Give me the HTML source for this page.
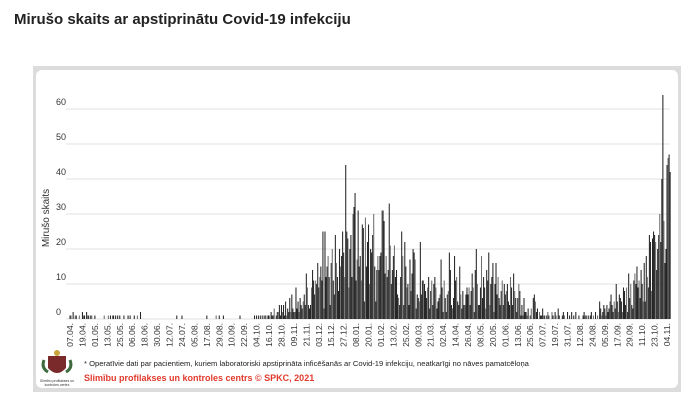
<!DOCTYPE html>
<html><head><meta charset="utf-8"><style>
body{margin:0;background:#fff;width:700px;height:406px;overflow:hidden;font-family:"Liberation Sans",sans-serif}
</style></head><body>
<svg width="700" height="406" xmlns="http://www.w3.org/2000/svg">
<text x="14" y="24" font-size="15" fill="#222" font-weight="600" font-family="Liberation Sans">Mirušo skaits ar apstiprinātu Covid-19 infekciju</text>
<rect x="33" y="66" width="648" height="326" fill="#dcdcdc"/>
<rect x="36" y="70" width="642" height="318" rx="6" fill="#fff"/>
<g id="grid"></g>
<g id="bars"></g>
<g id="xl"></g>
<text transform="translate(49,218) rotate(-90)" text-anchor="middle" font-size="10" fill="#333">Mirušo skaits</text>
<g>
<path d="M48 356 h18 v12 q-9 10 -18 0 z" fill="#7a2a2a"/>
<circle cx="57" cy="353" r="3" fill="#c9a43a"/>
<path d="M44 360 q-3 8 4 12 M70 360 q3 8 -4 12" stroke="#3d6b3d" stroke-width="3" fill="none"/>
<text x="57" y="382" font-size="3.5" text-anchor="middle" fill="#333">Slimību profilakses un</text>
<text x="57" y="386" font-size="3.5" text-anchor="middle" fill="#333">kontroles centrs</text>
</g>
<text x="84" y="366" font-size="7.6" fill="#222">* Operatīvie dati par pacientiem, kuriem laboratoriski apstiprināta inficēšanās ar Covid-19 infekciju, neatkarīgi no nāves pamatcēloņa</text>
<text x="84" y="381" font-size="9" font-weight="bold" fill="#e2392c">Slimību profilakses un kontroles centrs © SPKC, 2021</text>
</svg>
<script>
const yTicks=[0,10,20,30,40,50,60];
const dateLabels=["07.04.","19.04.","01.05.","13.05.","25.05.","06.06.","18.06.","30.06.","12.07.","24.07.","05.08.","17.08.","29.08.","10.09.","22.09.","04.10.","16.10.","28.10.","09.11.","21.11.","03.12.","15.12.","27.12.","08.01.","20.01.","01.02.","13.02.","25.02.","09.03.","21.03.","02.04.","14.04.","26.04.","08.05.","20.05.","01.06.","13.06.","25.06.","07.07.","19.07.","31.07.","12.08.","24.08.","05.09.","17.09.","29.09.","11.10.","23.10.","04.11."];
const deaths=[
1,1,0,2,0,1,1,0,0,1,0,0, 2,1,1,0,2,1,1,0,1,1,0,0, 1,0,0,0,0,0,0,0,0,1,0,0, 0,1,0,1,0,1,1,0,1,0,1,0,
1,0,0,0,1,0,0,0,1,0,1,0, 0,0,1,0,0,1,0,0,2,0,0,0, 0,0,0,0,0,0,0,0,0,0,0,0, 0,0,0,0,0,0,0,0,0,0,0,0,
0,0,0,0,0,0,0,1,0,0,0,0, 1,0,0,0,0,0,0,0,0,0,0,0, 0,0,0,0,0,0,0,0,0,0,0,0, 1,0,0,0,0,0,0,0,0,1,0,0,
1,0,0,0,1,0,0,0,0,0,0,0, 0,0,0,0,0,0,0,0,1,0,0,0, 0,0,0,0,0,0,0,0,0,0,1,0, 1,0,1,0,1,0,1,0,1,1,0,1,
1,0,2,1,1,3,0,1,2,2,4,1, 4,2,4,1,5,1,3,2,6,2,7,3, 2,2,9,3,5,2,6,4,3,5,7,4, 13,9,4,3,4,9,14,11,7,11,10,16,
9,12,15,11,25,3,25,12,15,18,12,4, 16,20,11,7,24,16,12,8,20,15,18,25, 19,12,44,25,23,9,20,24,12,30,32,36,
11,17,31,15,18,11,27,26,5,29,15,22, 27,10,20,19,24,30,15,5,14,18,14,18, 19,31,31,28,13,18,12,14,33,21,10,14,
18,21,12,14,7,6,4,12,25,18,4,22, 15,9,10,4,17,8,13,20,19,17,3,7, 6,5,22,7,11,11,10,8,6,9,12,3,
8,11,4,10,12,9,3,5,6,7,17,9, 2,11,6,2,7,8,19,14,4,3,6,18, 11,12,5,4,15,7,3,8,4,4,7,9,
7,9,4,8,13,9,2,14,20,10,4,4, 9,18,6,12,9,3,14,11,19,4,10,12, 16,2,10,16,7,12,6,4,8,11,4,10,
7,8,10,5,4,12,9,4,13,8,6,2, 6,10,8,1,4,1,6,2,2,1,3,0, 1,3,0,6,7,5,2,3,0,2,1,1,
3,1,1,0,1,2,1,0,0,2,1,0, 2,1,0,3,1,0,0,1,2,1,0,0, 2,0,1,0,2,0,1,0,2,0,0,1, 0,0,0,1,2,1,1,0,1,0,1,2,
0,1,0,2,0,1,0,5,3,1,2,4, 3,1,4,2,3,5,7,4,2,5,3,10, 5,2,7,6,5,2,9,8,4,9,2,13, 6,10,4,3,11,13,10,15,9,11,6,14,
10,5,16,5,18,12,9,24,22,8,23,25, 24,22,14,20,24,30,22,40,64,28,16,20, 44,46,47,42];
const NS="http://www.w3.org/2000/svg";
const x0=70, step=(667-70)/576, yBase=319, pxPerUnit=3.5;
const xs=i=>x0+i*step, ys=v=>yBase-v*pxPerUnit;
const grid=document.getElementById('grid'),bars=document.getElementById('bars'),xl=document.getElementById('xl');
function mk(t,a){const e=document.createElementNS(NS,t);for(const k in a)e.setAttribute(k,a[k]);return e;}
yTicks.forEach(v=>{
 const l=mk('line',{x1:66,x2:670,y1:ys(v),y2:ys(v),stroke:'#e0e0e0','stroke-width':1});
 
 
 grid.appendChild(l);
 const t=mk('text',{x:56,y:ys(v)-4,'font-size':9,fill:'#333'});
 
 
 t.textContent=v;grid.appendChild(t);
});
deaths.forEach((v,i)=>{
 if(v<=0)return;
 const r=mk('rect',{x:xs(i)-0.5,y:ys(v),width:1.05,height:v*pxPerUnit,fill:(i%4==1)?'#6e6e6e':'#262626'});
 
 
 bars.appendChild(r);
});
dateLabels.forEach((d,i)=>{
 const x=xs(i*12)+3;
 const t=mk('text',{transform:`translate(${x},323) rotate(-90)`,'text-anchor':'end','font-size':8.6,fill:'#333'});
 
 
 t.textContent=d;xl.appendChild(t);
});
</script>
</body></html>
